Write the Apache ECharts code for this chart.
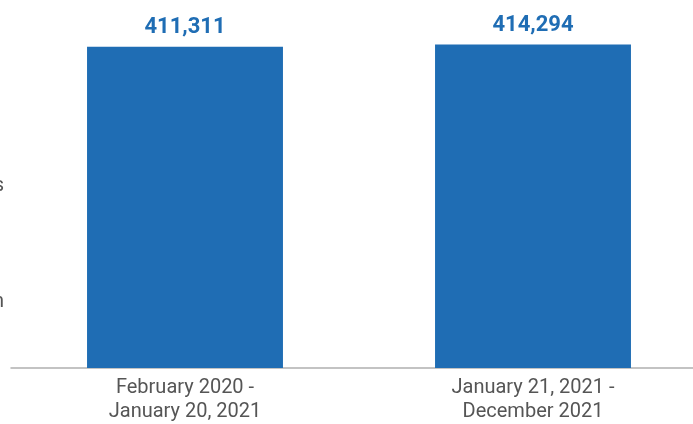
<!DOCTYPE html>
<html>
<head>
<meta charset="utf-8">
<script src="https://cdn.jsdelivr.net/npm/echarts@6/dist/echarts.min.js"></script>
<style>html,body{margin:0;padding:0;background:#fff}#c{width:693px;height:424px}</style>
</head>
<body>
<div id="c"></div>
<script>
const categories = ["February 2020 -\nJanuary 20, 2021", "January 21, 2021 -\nDecember 2021"];
const values = [411311, 414294];

const chart = echarts.init(document.getElementById('c'), null, {renderer: 'canvas'});
chart.setOption({
  animation: false,
  grid: {left: 11, right: -14, top: 40, bottom: 56, containLabel: false, outerBoundsMode: 'none'},
  xAxis: {
    type: 'category',
    data: categories,
    axisLine: {show: true, lineStyle: {color: '#b0b0b0', width: 1.5}},
    axisTick: {show: false},
    axisLabel: {
      color: '#555', fontSize: 20, lineHeight: 24, margin: 8,
      fontFamily: '"Roboto", sans-serif'
    }
  },
  yAxis: {type: 'value', min: 0, max: 420000, show: false, splitLine: {show: false}},
  series: [{
    type: 'bar',
    data: values,
    barWidth: '56.3%',
    itemStyle: {color: '#1f6db4'},
    label: {
      show: true, position: 'top', distance: 8,
      color: '#1f6db4', fontSize: 22, fontWeight: 'bold',
      fontFamily: '"Roboto", sans-serif',
      formatter: p => p.value.toLocaleString('en-US')
    }
  }],
  graphic: [
    {type: 'text', right: 689, top: 176, style: {text: 's', fill: '#555', font: '20px Roboto, sans-serif'}},
    {type: 'text', right: 689, top: 292, style: {text: 'n', fill: '#555', font: '20px Roboto, sans-serif'}}
  ]
});
</script>
</body>
</html>
